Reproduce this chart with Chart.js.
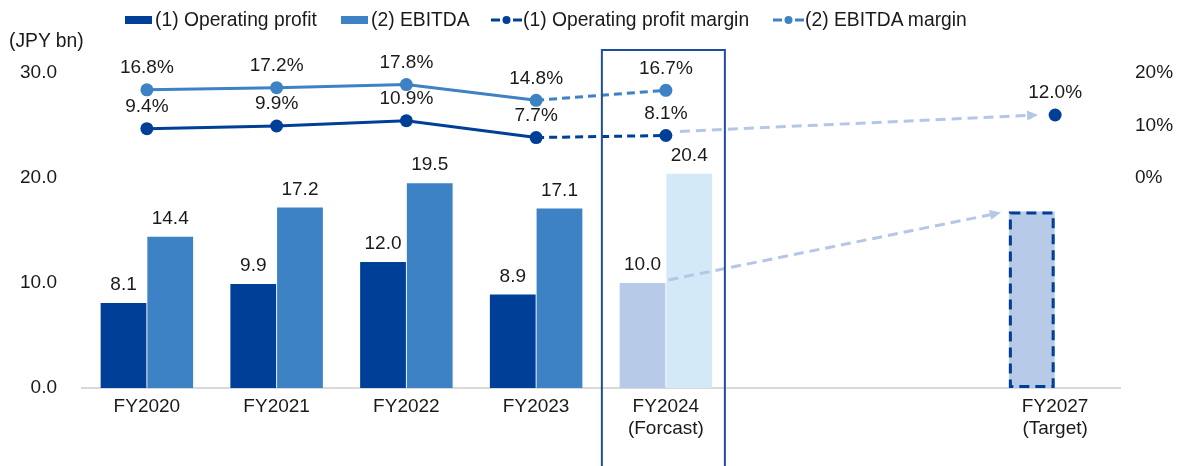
<!DOCTYPE html>
<html>
<head>
<meta charset="utf-8">
<script src="https://cdn.jsdelivr.net/npm/chart.js@4.4.1/dist/chart.umd.min.js"></script>
<style>
  body { margin: 0; background: #fff; font-family: "Liberation Sans", Arial, sans-serif; color: #1a1a1a; }
  #wrap { position: relative; width: 1178px; height: 466px; }
  .lg { position: absolute; top: 9px; height: 22px; font-size: 19.3px; line-height: 22px; white-space: nowrap; display: flex; align-items: center; }
  .sq { display: inline-block; width: 27px; height: 8px; margin-right: 3px; }
  .ln { margin-right: 1px; }
  #unit { position: absolute; left: 9px; top: 30px; font-size: 19.3px; line-height: 22px; }
</style>
</head>
<body>
<div id="wrap">
  <canvas id="barLucro" width="1178" height="466"></canvas>
  <div class="lg" style="left:125px"><span class="sq" style="background:#003F98"></span>(1) Operating profit</div>
  <div class="lg" style="left:341px"><span class="sq" style="background:#3C82C4"></span>(2) EBITDA</div>
  <div class="lg" style="left:491px"><svg class="ln" width="31" height="10"><line x1="0" y1="5" x2="31" y2="5" stroke="#003F98" stroke-width="3" stroke-dasharray="9,13"/><circle cx="15.5" cy="5" r="4" fill="#003F98"/></svg>(1) Operating profit margin</div>
  <div class="lg" style="left:773px"><svg class="ln" width="31" height="10"><line x1="0" y1="5" x2="31" y2="5" stroke="#3C82C4" stroke-width="3" stroke-dasharray="9,13"/><circle cx="15.5" cy="5" r="4" fill="#3C82C4"/></svg>(2) EBITDA margin</div>
  <div id="unit">(JPY bn)</div>
</div>
<script>
// dados
const anos = [['FY2020'], ['FY2021'], ['FY2022'], ['FY2023'], ['FY2024', '(Forcast)'], '', '', ['FY2027', '(Target)']];
const lucroOp = [8.1, 9.9, 12.0, 8.9, 10.0, null, null, 16.8];
const ebitda = [14.4, 17.2, 19.5, 17.1, 20.4, null, null, null];
const margemOp = [9.4, 9.9, 10.9, 7.7, 8.1, null, null, 12.0];
const margemEbitda = [16.8, 17.2, 17.8, 14.8, 16.7, null, null, null];
const ticksEsq = [0, 10, 20, 30];
const ticksDir = [0, 10, 20];
const semRotulo = [7]; // barra da meta sem valor escrito

const azulEsc = '#003F98';
const azulMed = '#3C82C4';
const azulClaro = '#B7CBE8';
const azulCeu = '#D3E9F8';
const setaCor = '#B4C7E7';
const fonte = "'Liberation Sans', Arial, sans-serif";
const corTexto = '#1a1a1a';
const tamFonte = 19;

const corLucro = lucroOp.map((v, i) => i >= 4 ? azulClaro : azulEsc);
const corEbitda = ebitda.map((v, i) => i >= 4 ? azulCeu : azulMed);

// rotulos de valor
const rotulos = {
    id: 'rotulos',
    afterDatasetsDraw(chart) {
        const ctx = chart.ctx;
        ctx.save();
        ctx.font = tamFonte + 'px ' + fonte;
        ctx.fillStyle = corTexto;
        ctx.textAlign = 'center';
        ctx.textBaseline = 'middle';
        chart.data.datasets.forEach((ds, d) => {
            const meta = chart.getDatasetMeta(d);
            meta.data.forEach((el, i) => {
                const v = ds.data[i];
                if (v === null) return;
                if (ds.type === 'bar') {
                    if (semRotulo.includes(i)) return;
                    ctx.fillText(v.toFixed(1), el.x, el.y - 18);
                } else {
                    ctx.fillText(v.toFixed(1) + '%', el.x, el.y - 22);
                }
            });
        });
        ctx.restore();
    }
};

function seta(ctx, x0, y0, x1, y1) {
    const ang = Math.atan2(y1 - y0, x1 - x0);
    const ponta = 11;
    ctx.beginPath();
    ctx.setLineDash([10, 6]);
    ctx.moveTo(x0, y0);
    ctx.lineTo(x1 - ponta * Math.cos(ang), y1 - ponta * Math.sin(ang));
    ctx.stroke();
    ctx.setLineDash([]);
    ctx.beginPath();
    ctx.moveTo(x1, y1);
    ctx.lineTo(x1 - ponta * Math.cos(ang) + 5 * Math.sin(ang), y1 - ponta * Math.sin(ang) - 5 * Math.cos(ang));
    ctx.lineTo(x1 - ponta * Math.cos(ang) - 5 * Math.sin(ang), y1 - ponta * Math.sin(ang) + 5 * Math.cos(ang));
    ctx.closePath();
    ctx.fill();
}

// caixa da previsao, borda tracejada da meta e setas
const extras = {
    id: 'extras',
    afterDatasetsDraw(chart) {
        const ctx = chart.ctx;
        const barOp = chart.getDatasetMeta(0).data;
        const linOp = chart.getDatasetMeta(2).data;
        ctx.save();

        // borda tracejada FY2027
        const b = barOp[7];
        ctx.strokeStyle = azulEsc;
        ctx.lineWidth = 3;
        ctx.setLineDash([10, 6]);
        ctx.strokeRect(b.x - b.width / 2 + 1.5, b.y + 1.5, b.width - 3, b.base - b.y - 3);

        // setas
        ctx.strokeStyle = setaCor;
        ctx.fillStyle = setaCor;
        ctx.lineWidth = 3;
        const a = barOp[4];
        seta(ctx, a.x + a.width / 2 + 3, a.y - 3, b.x - b.width / 2 - 8, b.y + 1);
        const p0 = linOp[4], p1 = linOp[7];
        seta(ctx, p0.x + 14, p0.y - 4, p1.x - 17, p1.y);

        // caixa FY2024
        const cx = chart.scales.x.getPixelForValue(4);
        ctx.setLineDash([]);
        ctx.strokeStyle = '#1F4E9E';
        ctx.lineWidth = 2;
        ctx.strokeRect(cx - 64, 50, 123, 430);
        ctx.restore();
    }
};

const dadosLucro = {
    labels: anos,
    datasets: [{
        type: 'bar',
        label: '(1) Operating profit',
        data: lucroOp,
        backgroundColor: corLucro,
        categoryPercentage: 0.72,
        barPercentage: 0.98,
        order: 2
    }, {
        type: 'bar',
        label: '(2) EBITDA',
        data: ebitda,
        backgroundColor: corEbitda,
        categoryPercentage: 0.72,
        barPercentage: 0.98,
        order: 3
    }, {
        type: 'line',
        label: '(1) Operating profit margin',
        data: margemOp,
        yAxisID: 'y1',
        borderColor: azulEsc,
        backgroundColor: azulEsc,
        borderWidth: 3,
        pointRadius: 6.5,
        pointBorderWidth: 0,
        segment: { borderDash: c => c.p0DataIndex >= 3 ? [8, 5] : undefined },
        order: 0
    }, {
        type: 'line',
        label: '(2) EBITDA margin',
        data: margemEbitda,
        yAxisID: 'y1',
        borderColor: azulMed,
        backgroundColor: azulMed,
        borderWidth: 3,
        pointRadius: 6.5,
        pointBorderWidth: 0,
        segment: { borderDash: c => c.p0DataIndex >= 3 ? [8, 5] : undefined },
        order: 1
    }]
};

const fonteEixo = { family: fonte, size: tamFonte };

const configLucro = {
    data: dadosLucro,
    options: {
        responsive: false,
        animation: false,
        layout: { padding: { top: 73, left: 0, right: 0, bottom: 0 } },
        scales: {
            x: {
                grid: { display: false, drawTicks: false },
                border: { color: '#D9D9D9', width: 2 },
                ticks: { color: corTexto, font: { ...fonteEixo, lineHeight: 1.16 }, padding: 8, maxRotation: 0, autoSkip: false },
                afterFit: s => { s.height = 78; }
            },
            y: {
                position: 'left',
                min: 0,
                max: 30,
                afterBuildTicks: s => { s.ticks = ticksEsq.map(v => ({ value: v })); },
                grid: { display: false, drawTicks: false },
                border: { display: false },
                ticks: { color: corTexto, font: fonteEixo, padding: 25, callback: v => v.toFixed(1) },
                afterFit: s => { s.width = 82; }
            },
            y1: {
                position: 'right',
                min: -40,
                max: 20,
                afterBuildTicks: s => { s.ticks = ticksDir.map(v => ({ value: v })); },
                grid: { display: false, drawTicks: false },
                border: { display: false },
                ticks: { color: corTexto, font: fonteEixo, padding: 15, callback: v => v + '%' },
                afterFit: s => { s.width = 58; }
            }
        },
        plugins: {
            legend: { display: false },
            tooltip: { enabled: false }
        }
    },
    plugins: [extras, rotulos]
};

new Chart(document.getElementById('barLucro').getContext('2d'), configLucro);
</script>
</body>
</html>
